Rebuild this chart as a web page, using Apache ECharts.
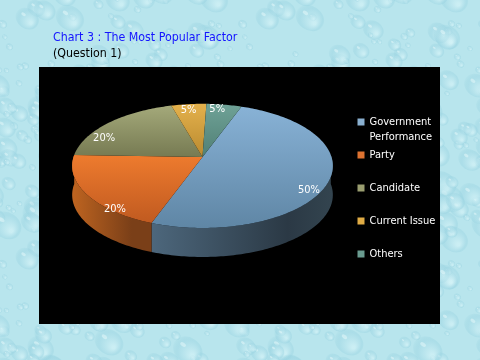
<!DOCTYPE html>
<html><head><meta charset="utf-8">
<style>html,body{margin:0;padding:0;width:480px;height:360px;overflow:hidden;background:#bfe8ee}#c{width:480px;height:360px}</style>
<script src="https://cdn.jsdelivr.net/npm/echarts@6/dist/echarts.min.js"></script>
</head><body><div id="c"></div>
<script>
const categories = ['Government Performance','Party','Candidate','Current Issue','Others'];
const values = [50,20,20,5,5];
const labels = ['50%','20%','20%','5%','5%'];
const legendColors = ['#8AB0D0','#DD7230','#9A9E70','#E0AC45','#6A9C90'];
const topColors = [['#88B2D6','#5F86A5'],['#EE7B2E','#C05A20'],['#A4A97A','#767A52'],['#E4B14C','#B98A30'],['#6FA297','#507F74']];
const sideColors = [['#4D677C','#2B3945','#33444F'],['#BE6420','#7A3F18','#7A3F18'],['#777','#555','#555'],['#888','#666','#666'],['#666','#555','#555']];
const labelShift = [[-1,15],[10,21],[-18,11],[-2,-1],[-4,-3]];
const FONT = 'DejaVu Sans Condensed';

// droplet texture (decorative backdrop only)
(function(){
  const S=240,t=document.createElement('canvas');t.width=t.height=S;const g=t.getContext('2d');
  const h=n=>{const v=Math.sin(n*127.1+11.7)*43758.5453;return v-Math.floor(v);};
  g.fillStyle='#B8E5ED';g.fillRect(0,0,S,S);
  for(let i=0;i<210;i++){
    const x=h(i+.1)*S,y=h(i+.37)*S,q=h(i+.71),r=3+q*q*13;
    [[0,0],[S,0],[-S,0],[0,S],[0,-S]].forEach(o=>{
      const X=x+o[0],Y=y+o[1];
      const d=g.createRadialGradient(X+r*.3,Y+r*.35,r*.1,X,Y,r);
      d.addColorStop(0,'rgba(215,244,248,.6)');d.addColorStop(.7,'rgba(160,215,228,.5)');d.addColorStop(1,'rgba(135,200,216,.05)');
      g.fillStyle=d;g.beginPath();g.ellipse(X,Y,r,r*.8,.6,0,6.3);g.fill();
      g.fillStyle='rgba(240,252,253,.45)';g.beginPath();g.ellipse(X-r*.3,Y-r*.35,r*.2,r*.12,.6,0,6.3);g.fill();
    });
  }
  document.body.style.backgroundImage='url('+t.toDataURL()+')';
})();

const total = values.reduce((a,b)=>a+b,0);
const START = 20, CX = 202.5, CY = 157, RX = 129, RY = 60.8, K = 0.143, DEPTH = 29;
function project(deg,r){
  const a=deg*Math.PI/180,u=Math.sin(a)*r,v=-Math.cos(a)*r,s=1/(1-K*v);
  return [CX+RX*u*s,CY+RY*v*s,v];
}
function range(i){
  let before=0;for(let j=0;j<i;j++)before+=values[j];
  return [START+360*before/total,START+360*(before+values[i])/total];
}
function renderSlice(i){
  const [a0,a1]=range(i),pts=[[CX,CY]],arc=[];
  for(let d=a0;d<a1;d+=1)arc.push(project(d,1));
  arc.push(project(a1,1));
  arc.forEach(p=>pts.push([p[0],p[1]]));
  const children=[];
  const front=arc.filter(p=>p[2]>=-0.05);
  if(front.length>5){
    const wall=front.map(p=>[p[0],p[1]]).concat(front.slice().reverse().map(p=>[p[0],p[1]+DEPTH]));
    const sc=sideColors[i];
    children.push({type:'polygon',shape:{points:wall},style:{fill:new echarts.graphic.LinearGradient(0,0,1,0,[{offset:0,color:sc[0]},{offset:.75,color:sc[1]},{offset:1,color:sc[2]}])}});
  }
  const tc=topColors[i];
  children.push({type:'polygon',shape:{points:pts},style:{fill:new echarts.graphic.LinearGradient(0,0,0,1,[{offset:0,color:tc[0]},{offset:1,color:tc[1]}])}});
  const m=project((a0+a1)/2,0.85);
  children.push({type:'text',z2:100,style:{text:labels[i],x:m[0]+labelShift[i][0],y:m[1]+labelShift[i][1],align:'center',verticalAlign:'middle',fill:'#fff',font:'11px "'+FONT+'"'}});
  return {type:'group',children};
}
const chart=echarts.init(document.getElementById('c'),null,{renderer:'canvas'});
const legendText={color:'#fff',fontFamily:FONT,fontSize:11,lineHeight:15};
chart.setOption({
  animation:false,
  backgroundColor:'transparent',
  title:[
    {text:'Chart 3 : The Most Popular Factor',left:53,top:30,padding:0,textStyle:{color:'#1414FF',fontFamily:FONT,fontSize:12.3,fontWeight:'normal',lineHeight:15}},
    {text:'(Question 1)',left:53,top:46,padding:0,textStyle:{color:'#000',fontFamily:FONT,fontSize:12.3,fontWeight:'normal',lineHeight:15}}
  ],
  graphic:[{type:'rect',z:-10,silent:true,shape:{x:39,y:67,width:401,height:257},style:{fill:'#000'}}],
  legend:[
    {data:[categories[0]],left:357.5,top:114.5,padding:0,orient:'vertical',selectedMode:false,itemWidth:7,itemHeight:30,itemGap:0,
     icon:'path://M0,0h0.01v0.01h-0.01z M0,4H7V11H0Z M0,30h0.01v-0.01h-0.01z',
     formatter:n=>n.replace(' ','\n'),textStyle:legendText},
    {data:categories.slice(1),left:357.5,top:147.5,padding:0,orient:'vertical',selectedMode:false,itemWidth:7,itemHeight:7,itemGap:18,icon:'rect',textStyle:legendText}
  ],
  series:categories.map((name,i)=>({
    type:'custom',name,coordinateSystem:'none',z:5+i,silent:true,
    itemStyle:{color:legendColors[i]},
    data:[values[i]],
    renderItem:()=>renderSlice(i)
  }))
});
</script></body></html>
